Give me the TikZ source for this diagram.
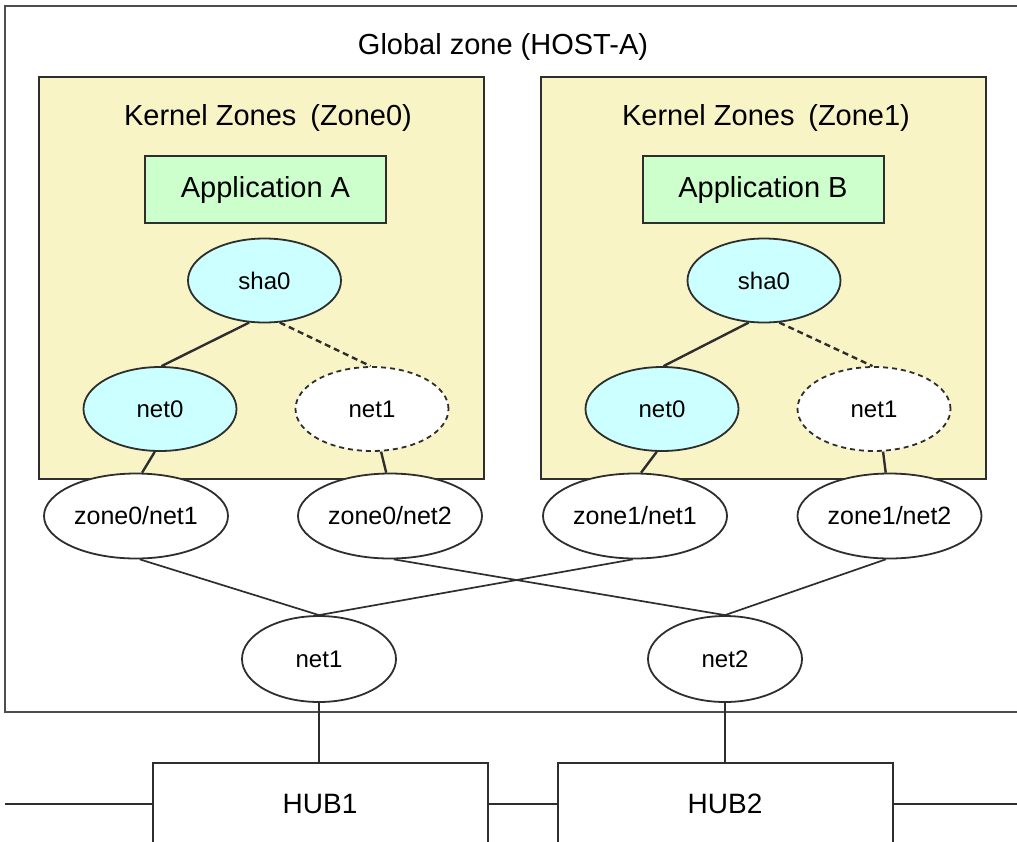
\documentclass[tikz,border=0pt]{standalone}
\usepackage{fontspec}
\setmainfont{Liberation Sans}
\usetikzlibrary{shapes.geometric}
\definecolor{kzfill}{HTML}{F9F4C6}
\definecolor{appfill}{HTML}{CCFFCC}
\definecolor{vnfill}{HTML}{CCFFFF}
\definecolor{ln}{HTML}{2E2E2E}
\begin{document}
\begin{tikzpicture}[x=1pt,y=-1pt,
  kzone/.style={draw=ln,line width=2.2pt,fill=kzfill,minimum width=445pt,minimum height=402pt,inner sep=0pt},
  appbox/.style={draw=ln,line width=2pt,fill=appfill,minimum width=241pt,minimum height=67pt,inner sep=0pt,font=\fontsize{29}{32}\selectfont},
  vnic/.style={ellipse,draw=ln,line width=1.8pt,fill=vnfill,minimum width=153pt,minimum height=84pt,inner sep=0pt,font=\fontsize{24}{27}\selectfont},
  vnicdash/.style={vnic,fill=white,dash pattern=on 5pt off 4pt},
  gnic/.style={ellipse,draw=ln,line width=1.8pt,fill=white,minimum width=184pt,minimum height=85pt,inner sep=0pt,font=\fontsize{25}{28}\selectfont},
  pnic/.style={ellipse,draw=ln,line width=1.8pt,fill=white,minimum width=154pt,minimum height=86pt,inner sep=0pt,font=\fontsize{24}{27}\selectfont},
  hub/.style={draw=ln,line width=2pt,fill=white,minimum width=335pt,minimum height=90pt,inner sep=0pt},
  hubtxt/.style={font=\fontsize{28}{31}\selectfont,inner sep=0pt},
  lbl/.style={font=\fontsize{29}{32}\selectfont,inner sep=0pt},
  conn/.style={draw=ln,line width=2.4pt},
  thin/.style={draw=ln,line width=1.7pt}
]
\useasboundingbox (0,0) rectangle (1017,841);
\clip (0,0) rectangle (1017,841);
% global zone
\draw[draw=ln!85,line width=2.4pt] (1030,6) -- (5,6) -- (5,712) -- (1030,712);
\node[lbl] (gtitle) at (503,47) {Global zone (HOST-A)};
% kernel zones
\node[kzone] (kz0) at (261.5,278) {};
\node[kzone] (kz1) at (763.5,278) {};
\node[lbl] (kz0t) at (268,118) {Kernel Zones\hspace{0.2em} (Zone0)};
\node[lbl] (kz1t) at (766,118) {Kernel Zones\hspace{0.2em} (Zone1)};
\node[appbox] (appA) at (265.5,189.5) {Application A};
\node[appbox] (appB) at (763,189.5) {Application B};
% zone0 vnics
\node[vnic] (sha0a) at (264.5,280.5) {sha0};
\node[vnic] (net0a) at (160,409) {net0};
\node[vnicdash] (net1a) at (372,409) {net1};
% zone1 vnics
\node[vnic] (sha0b) at (764,280.5) {sha0};
\node[vnic] (net0b) at (662,409) {net0};
\node[vnicdash] (net1b) at (874,409) {net1};
% global vnics
\node[gnic] (z0n1) at (136,516) {zone0/net1};
\node[gnic] (z0n2) at (390,516) {zone0/net2};
\node[gnic] (z1n1) at (635,516) {zone1/net1};
\node[gnic] (z1n2) at (889.5,516) {zone1/net2};
% physical nics
\node[pnic] (pn1) at (319,659) {net1};
\node[pnic] (pn2) at (725,659) {net2};
% hubs
\node[hub] (hub1) at (320.5,808) {};
\node[hub] (hub2) at (725.5,808) {};
\node[hubtxt] (hub1t) at (320,804) {HUB1};
\node[hubtxt] (hub2t) at (725,804) {HUB2};
% connectors inside zones
\draw[conn] (sha0a.250) -- (net0a.88);
\draw[conn,dash pattern=on 6pt off 4pt] (sha0a.290) -- (net1a.92);
\draw[conn] (sha0b.250) -- (net0b.88);
\draw[conn,dash pattern=on 6pt off 4pt] (sha0b.290) -- (net1b.92);
\draw[conn] (net0a.263) -- (z0n1.82);
\draw[conn] (net1a.282) -- (z0n2.95);
\draw[conn] (net0b.263) -- (z1n1.82);
\draw[conn] (net1b.282) -- (z1n2.95);
% cross connectors
\draw[thin] (z0n1.275) -- (pn1.north);
\draw[thin] (z1n1.267) -- (pn1.north);
\draw[thin] (z0n2.275) -- (pn2.north);
\draw[thin] (z1n2.265) -- (pn2.north);
% to hubs
\draw[thin] (pn1.south) -- (pn1.south |- hub1.north);
\draw[thin] (pn2.south) -- (pn2.south |- hub2.north);
% LAN line
\coordinate (lanL) at (5,804);
\coordinate (lanR) at (1017,804);
\draw[thin,line width=2pt] (lanL) -- (hub1.west |- lanL);
\draw[thin,line width=2pt] (hub1.east |- lanL) -- (hub2.west |- lanL);
\draw[thin,line width=2pt] (hub2.east |- lanL) -- (lanR);
\end{tikzpicture}
\end{document}
